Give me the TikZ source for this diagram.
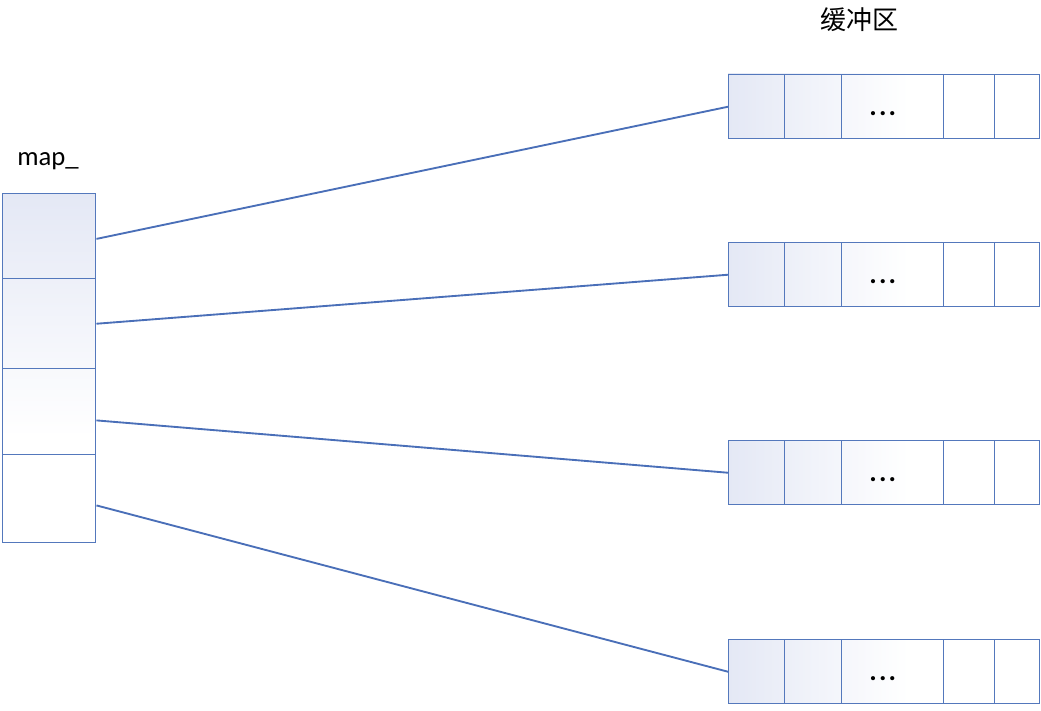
\documentclass[tikz,border=0pt]{standalone}
\usepackage{fontspec}
\setmainfont{Carlito}
\newfontfamily\cjk{Noto Sans CJK SC}
\definecolor{edge}{HTML}{5478BC}
\definecolor{wire}{HTML}{4A6FB8}
\definecolor{tint}{HTML}{E4E8F5}
\pgfdeclarehorizontalshading{fadeh}{100bp}{color(0bp)=(tint); color(25bp)=(tint); color(54bp)=(white); color(100bp)=(white)}
\pgfdeclareverticalshading{fadev}{100bp}{color(0bp)=(white); color(40bp)=(white); color(75bp)=(tint); color(100bp)=(tint)}
\begin{document}
\begin{tikzpicture}[x=0.75pt,y=-0.75pt,
  cell/.style={draw=edge,line width=1.1pt,rectangle,inner sep=0pt,anchor=north west},
  wireln/.style={draw=wire,line width=1.4pt},
  dots/.style={font=\fontsize{21}{24}\selectfont\bfseries,xshift=-7.5pt,yshift=-5.5pt},
  lbl/.style={font=\fontsize{20}{24}\selectfont}]
\useasboundingbox (0,0) rectangle (1041,710);
% map column
\shade[shading=fadev] (2,193) rectangle (95,542);
\node[cell,minimum width=93*0.75pt,minimum height=85*0.75pt] (m1) at (2,193) {};
\node[cell,minimum width=93*0.75pt,minimum height=90*0.75pt] (m2) at (2,278) {};
\node[cell,minimum width=93*0.75pt,minimum height=86*0.75pt] (m3) at (2,368) {};
\node[cell,minimum width=93*0.75pt,minimum height=88*0.75pt] (m4) at (2,454) {};
\node[lbl,anchor=base] (maplbl) at (48,165) {map\_};
\node[lbl,anchor=base,font=\cjk\fontsize{19.5}{24}\selectfont] (buflbl) at (859,30) {缓冲区};
% buffers
\foreach \i/\y in {1/74,2/242,3/440,4/639}{
  \shade[shading=fadeh] (728,\y) rectangle (1039,\y+64);
  \node[cell,minimum width=56*0.75pt,minimum height=64*0.75pt] (b\i a) at (728,\y) {};
  \node[cell,minimum width=57*0.75pt,minimum height=64*0.75pt] (b\i b) at (784,\y) {};
  \node[cell,minimum width=102*0.75pt,minimum height=64*0.75pt] (b\i c) at (841,\y) {};
  \node[dots] (b\i t) at (b\i c.center) {.\kern1.6pt.\kern1.6pt.};
  \node[cell,minimum width=51*0.75pt,minimum height=64*0.75pt] (b\i d) at (943,\y) {};
  \node[cell,minimum width=45*0.75pt,minimum height=64*0.75pt] (b\i e) at (994,\y) {};
}
% connectors
\draw[wireln] ([yshift=-2pt]m1.east) -- (b1a.west);
\draw[wireln] (m2.east) -- (b2a.west);
\draw[wireln] ([yshift=-6.5pt]m3.east) -- (b3a.west);
\draw[wireln] ([yshift=-5pt]m4.east) -- (b4a.west);
\end{tikzpicture}
\end{document}
